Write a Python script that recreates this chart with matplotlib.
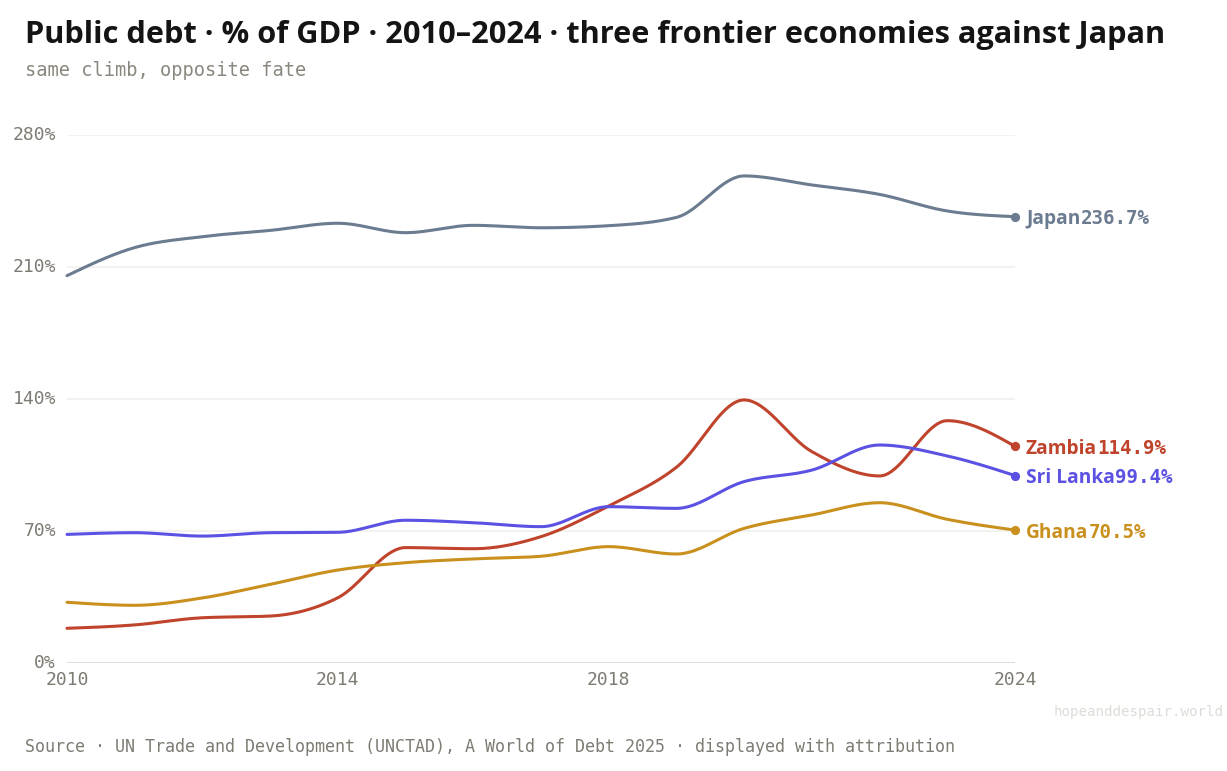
import numpy as np
import matplotlib
matplotlib.use("Agg")
import matplotlib.pyplot as plt
from matplotlib import font_manager as fm

# ---- data ----
years = [2010, 2011, 2012, 2013, 2014, 2015, 2016, 2017, 2018, 2019, 2020, 2021, 2022, 2023, 2024]
japan = [205.4, 220.3, 226.1, 229.4, 233.2, 228.2, 232.1, 230.8, 231.9, 236.3, 258.3, 253.5, 248.5, 239.7, 236.7]
zambia = [18.4, 20.2, 24.0, 24.9, 34.6, 61.2, 60.6, 67.0, 83.3, 103.8, 139.5, 112.1, 99.2, 128.5, 114.9]
sri_lanka = [68.2, 69.1, 67.3, 69.1, 69.3, 75.7, 74.4, 72.3, 82.9, 82.0, 96.2, 102.3, 115.6, 109.8, 99.4]
ghana = [32.2, 30.6, 34.5, 41.7, 49.3, 53.2, 55.2, 56.6, 61.7, 57.8, 71.4, 78.5, 85.0, 76.2, 70.5]

series_names = ["Japan", "Zambia", "Sri Lanka", "Ghana"]
series_values = [japan, zambia, sri_lanka, ghana]
series_colors = ["#6b7b90", "#c0432c", "#5b52e3", "#c9901d"]

y_ticks = [0, 70, 140, 210, 280]
x_ticks = [2010, 2014, 2018, 2024]

title = "Public debt · % of GDP · 2010–2024 · three frontier economies against Japan"
subtitle = "same climb, opposite fate"
source = "Source · UN Trade and Development (UNCTAD), A World of Debt 2025 · displayed with attribution"
watermark = "hopeanddespair.world"


def pick_bold(cands):
    for fam in cands:
        for f in fm.fontManager.ttflist:
            w = f.weight
            if isinstance(w, str):
                w = {"bold": 700, "semibold": 600, "demibold": 600, "heavy": 800,
                     "extra bold": 800, "black": 900}.get(w.lower(), 400)
            if f.name == fam and w >= 600:
                return fam
    return "DejaVu Sans"


BOLD_SANS = pick_bold(["Noto Sans", "Open Sans", "Lato", "Roboto", "Inter", "Liberation Sans"])


def monotone_curve(x, y, n=40):
    """d3.curveMonotoneX style smooth rendering through the data points."""
    x = np.asarray(x, float)
    y = np.asarray(y, float)
    m = len(x)
    h = np.diff(x)
    s = np.diff(y) / h
    t = np.zeros(m)
    for i in range(1, m - 1):
        h0, h1 = h[i - 1], h[i]
        s0, s1 = s[i - 1], s[i]
        p = (s0 * h1 + s1 * h0) / (h0 + h1)
        t[i] = (np.sign(s0) + np.sign(s1)) * min(abs(s0), abs(s1), 0.5 * abs(p))
    t[0] = (3 * s[0] - t[1]) / 2
    t[-1] = (3 * s[-1] - t[-2]) / 2
    xs, ys = [], []
    for i in range(m - 1):
        u = np.linspace(0, 1, n, endpoint=(i == m - 2))
        dx = h[i]
        h00 = 2 * u**3 - 3 * u**2 + 1
        h10 = u**3 - 2 * u**2 + u
        h01 = -2 * u**3 + 3 * u**2
        h11 = u**3 - u**2
        xs.append(x[i] + u * dx)
        ys.append(h00 * y[i] + h10 * dx * t[i] + h01 * y[i + 1] + h11 * dx * t[i + 1])
    return np.concatenate(xs), np.concatenate(ys)


W, H = 1227, 771
fig = plt.figure(figsize=(W / 100, H / 100), dpi=100)
fig.patch.set_facecolor("white")

ax_left, ax_right = 67 / W, 1015 / W
ax_bottom, ax_top = 1 - 663 / H, 1 - 135 / H
ax = fig.add_axes([ax_left, ax_bottom, ax_right - ax_left, ax_top - ax_bottom])
ax.set_xlim(2010, 2024)
ax.set_ylim(0, 280)
for sp in ax.spines.values():
    sp.set_visible(False)

for v in y_ticks[1:]:
    ax.axhline(v, color="#f0f0ee", lw=1.2, zorder=0)
ax.axhline(0, color="#dcdcd8", lw=1.4, zorder=1)

mono = "DejaVu Sans Mono"
tick_color = "#7d7b72"
ax.set_yticks(y_ticks)
ax.set_yticklabels([f"{v}%" for v in y_ticks], fontfamily=mono, fontsize=13, color=tick_color)
for lbl in ax.get_yticklabels():
    lbl.set_verticalalignment("center")
ax.set_xticks(x_ticks)
ax.set_xticklabels([str(v) for v in x_ticks], fontfamily=mono, fontsize=13, color=tick_color)
ax.tick_params(axis="y", length=0, pad=8)
ax.tick_params(axis="x", length=0, pad=6)

for name, vals, col in zip(series_names, series_values, series_colors):
    xs, ys = monotone_curve(years, vals)
    ax.plot(xs, ys, color=col, lw=2.2, solid_capstyle="round", zorder=3, clip_on=False)
    ax.plot([years[-1]], [vals[-1]], "o", color=col, ms=5.6, zorder=4, clip_on=False)

fig.text(25 / W, 1 - 35 / H, title, fontfamily=BOLD_SANS, fontweight="bold",
         fontsize=22.15, color="#141414", va="center", ha="left")
fig.text(25 / W, 1 - 71 / H, subtitle, fontfamily=mono, fontsize=13.4,
         color="#8a877e", va="center", ha="left")
fig.text(25 / W, 1 - 747 / H, source, fontfamily=mono, fontsize=12.0,
         color="#7d7b72", va="center", ha="left")
fig.text(1224 / W, 1 - 712 / H, watermark, fontfamily=mono, fontsize=10.2,
         color="#dedcd6", va="center", ha="right")

# end labels: bold name + bold monospaced value
fig.canvas.draw()
renderer = fig.canvas.get_renderer()
for name, vals, col in zip(series_names, series_values, series_colors):
    xd, yd = ax.transData.transform((years[-1], vals[-1]))
    t1 = fig.text((xd + 11) / W, yd / H, name, fontfamily=BOLD_SANS, fontweight="bold",
                  fontsize=13.8, color=col, va="center_baseline", ha="left")
    bb = t1.get_window_extent(renderer)
    fig.text(bb.x1 / W, yd / H, f"{vals[-1]:.1f}%", fontfamily=mono, fontweight="bold",
             fontsize=13.8, color=col, va="center_baseline", ha="left")

fig.savefig("out.png", dpi=100, facecolor="white")
